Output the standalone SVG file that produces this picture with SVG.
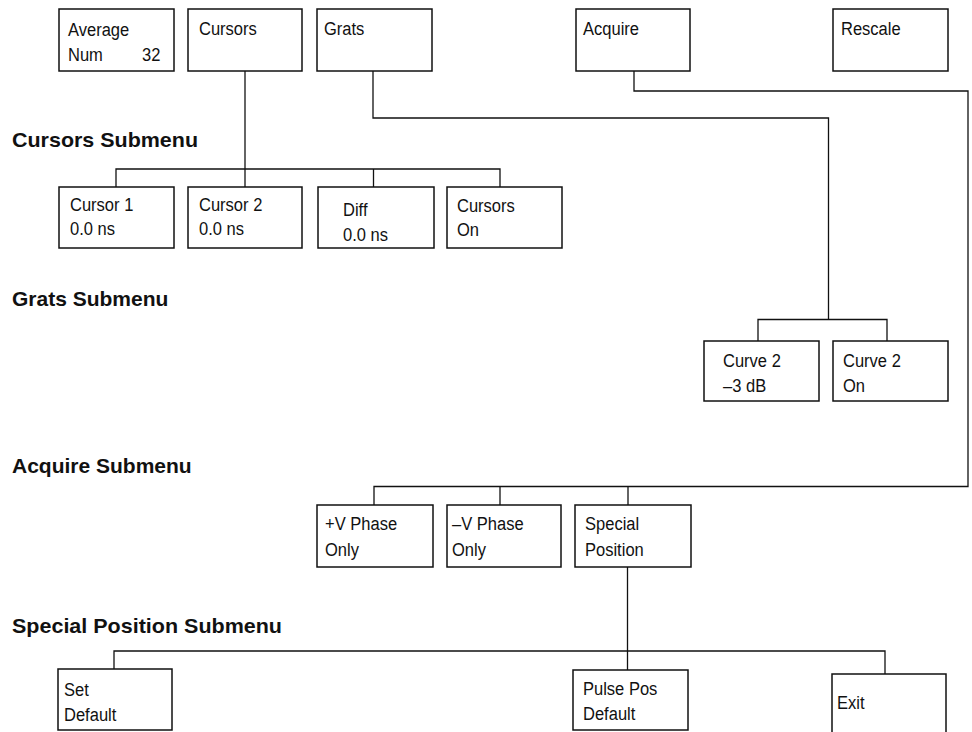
<svg xmlns="http://www.w3.org/2000/svg" width="972" height="732" viewBox="0 0 972 732">
<style>
.box{fill:#fff;stroke:#111;stroke-width:1.5}
.t{font-family:"Liberation Sans",Arial,sans-serif;font-size:19px;fill:#111;transform-box:fill-box;transform-origin:left center;transform:scaleX(0.87)}
.h{font-family:"Liberation Sans",Arial,sans-serif;font-size:21px;font-weight:bold;fill:#111}
.c{fill:none;stroke:#111;stroke-width:1.3}
</style>
<rect width="972" height="732" fill="#fff"/>
<g id="connectors">
<path class="c" d="M245 71V188"/>
<path class="c" d="M116 187V169H500V187"/>
<path class="c" d="M373.5 169V187"/>
<path class="c" d="M373 71V118H828.5V320"/>
<path class="c" d="M758 341V319.5H887V341"/>
<path class="c" d="M634 71V91H968V486.5H374V505"/>
<path class="c" d="M500 486.5V505"/>
<path class="c" d="M628 486.5V505"/>
<path class="c" d="M627.5 567V670"/>
<path class="c" d="M114 669V651H885V674"/>
</g>
<g id="labels">
<text class="h" x="12" y="147" textLength="186" lengthAdjust="spacingAndGlyphs">Cursors Submenu</text>
<text class="h" x="12" y="306">Grats Submenu</text>
<text class="h" x="12" y="473">Acquire Submenu</text>
<text class="h" x="12" y="633" textLength="270" lengthAdjust="spacingAndGlyphs">Special Position Submenu</text>
</g>
<g id="average"><rect class="box" x="59" y="9" width="115" height="62"/><text class="t" x="68" y="36">Average</text><text class="t" x="68" y="61">Num</text><text class="t" x="142" y="61">32</text></g>
<g id="cursors"><rect class="box" x="188" y="9" width="114" height="62"/><text class="t" x="199" y="35">Cursors</text></g>
<g id="grats"><rect class="box" x="317" y="9" width="115" height="62"/><text class="t" x="324" y="35">Grats</text></g>
<g id="acquire"><rect class="box" x="576" y="9" width="114" height="62"/><text class="t" x="583" y="35">Acquire</text></g>
<g id="rescale"><rect class="box" x="833" y="9" width="115" height="62"/><text class="t" x="841" y="35">Rescale</text></g>
<g id="cursor1"><rect class="box" x="59" y="187" width="115" height="61"/><text class="t" x="70" y="211">Cursor 1</text><text class="t" x="70" y="235">0.0 ns</text></g>
<g id="cursor2"><rect class="box" x="188" y="187" width="114" height="61"/><text class="t" x="199" y="211">Cursor 2</text><text class="t" x="199" y="235">0.0 ns</text></g>
<g id="diff"><rect class="box" x="318" y="187" width="116" height="61"/><text class="t" x="343" y="216">Diff</text><text class="t" x="343" y="241">0.0 ns</text></g>
<g id="cursorson"><rect class="box" x="447" y="187" width="115" height="61"/><text class="t" x="457" y="212">Cursors</text><text class="t" x="457" y="236">On</text></g>
<g id="curve2db"><rect class="box" x="704" y="341" width="115" height="60"/><text class="t" x="723" y="367">Curve 2</text><text class="t" x="723" y="392">–3 dB</text></g>
<g id="curve2on"><rect class="box" x="833" y="341" width="115" height="60"/><text class="t" x="843" y="367">Curve 2</text><text class="t" x="843" y="392">On</text></g>
<g id="vphase"><rect class="box" x="317" y="505" width="116" height="62"/><text class="t" x="325" y="530">+V Phase</text><text class="t" x="325" y="556">Only</text></g>
<g id="mvphase"><rect class="box" x="447" y="505" width="114" height="62"/><text class="t" x="452" y="530">–V Phase</text><text class="t" x="452" y="556">Only</text></g>
<g id="special"><rect class="box" x="575" y="505" width="116" height="62"/><text class="t" x="585" y="530">Special</text><text class="t" x="585" y="556">Position</text></g>
<g id="setdefault"><rect class="box" x="58" y="669" width="114" height="61"/><text class="t" x="64" y="696">Set</text><text class="t" x="64" y="721">Default</text></g>
<g id="pulsepos"><rect class="box" x="573" y="670" width="115" height="60"/><text class="t" x="583" y="695">Pulse Pos</text><text class="t" x="583" y="720">Default</text></g>
<g id="exit"><rect class="box" x="832" y="674" width="114" height="70"/><text class="t" x="837" y="709">Exit</text></g>
</svg>
